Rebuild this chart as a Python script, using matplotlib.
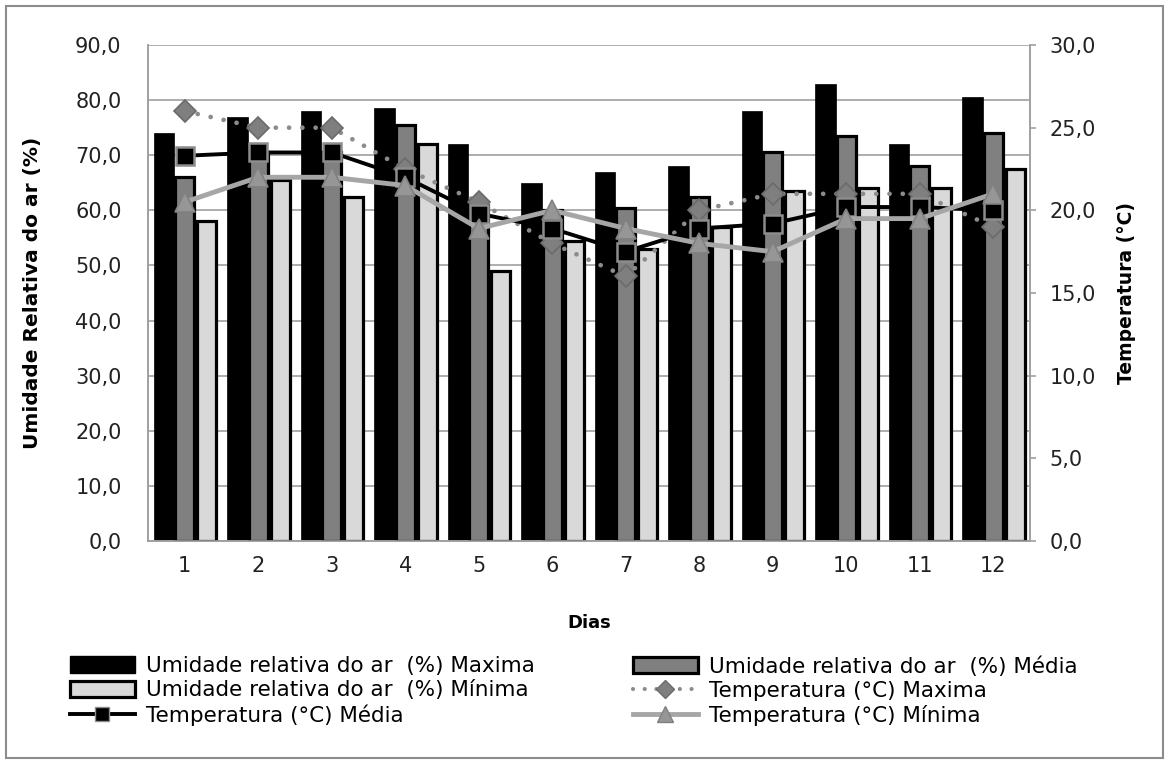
import numpy as np
import matplotlib
matplotlib.use('Agg')
import matplotlib.pyplot as plt
from matplotlib.lines import Line2D
from matplotlib.patches import Patch, Rectangle
from matplotlib.ticker import FuncFormatter, MultipleLocator

plt.rcParams['font.family'] = ['DejaVu Sans']

# dados
dias = [1, 2, 3, 4, 5, 6, 7, 8, 9, 10, 11, 12]
ur_max = [74, 77, 78, 78.5, 72, 65, 67, 68, 78, 83, 72, 80.5]
ur_med = [66, 70.5, 70.5, 75.5, 61, 60, 60.5, 62.5, 70.5, 73.5, 68, 74]
ur_min = [58, 65.5, 62.5, 72, 49, 54.5, 53, 57, 63.5, 64, 64, 67.5]
t_max = [26, 25, 25, 22.5, 20.5, 18, 16, 20, 21, 21, 21, 19]
t_med = [23.3, 23.5, 23.5, 22, 19.8, 18.9, 17.5, 18.9, 19.2, 20.2, 20.2, 20]
t_min = [20.5, 22, 22, 21.5, 18.9, 20, 18.9, 18, 17.5, 19.5, 19.5, 21]

labels = ['Umidade relativa do ar  (%) Maxima',
          'Umidade relativa do ar  (%) Média',
          'Umidade relativa do ar  (%) Mínima',
          'Temperatura (°C) Maxima',
          'Temperatura (°C) Média',
          'Temperatura (°C) Mínima']

fig = plt.figure(figsize=(11.69, 7.63), dpi=100)
fig.patches.append(Rectangle((0.005, 0.007), 0.99, 0.985, transform=fig.transFigure,
                             fill=False, edgecolor='#8c8c8c', linewidth=1.5))
ax1 = fig.add_axes([0.1266, 0.291, 0.7545, 0.65])
ax2 = ax1.twinx()

x = np.arange(len(dias))
w = 0.28
ax1.bar(x - w, ur_max, w, color='black', edgecolor='black', linewidth=0.5, zorder=2)
ax1.bar(x, ur_med, w * 0.92, color='#808080', edgecolor='black', linewidth=2.3, zorder=3)
ax1.bar(x + w + 0.02, ur_min, w * 0.92, color='#d9d9d9', edgecolor='black', linewidth=2.3, zorder=3)

dots = (0, (0.01, 2.8))
ax2.plot(x, t_max, linestyle=dots, color='#8c8c8c', linewidth=3.4,
         dash_capstyle='round', marker='D', markersize=11,
         markerfacecolor='#7f7f7f', markeredgecolor='#6b6b6b', markeredgewidth=1.2)
ax2.plot(x, t_med, color='black', linewidth=2.8, marker='s', markersize=13,
         markerfacecolor='black', markeredgecolor='#8c8c8c', markeredgewidth=1.8)
ax2.plot(x, t_min, color='#a6a6a6', linewidth=3.5, marker='^', markersize=14,
         markerfacecolor='#969696', markeredgecolor='#808080', markeredgewidth=1.2)

fmt = FuncFormatter(lambda v, p: f'{v:.1f}'.replace('.', ','))
ax1.set_ylim(0, 90)
ax1.yaxis.set_major_locator(MultipleLocator(10))
ax1.yaxis.set_major_formatter(fmt)
ax2.set_ylim(0, 30)
ax2.yaxis.set_major_locator(MultipleLocator(5))
ax2.yaxis.set_major_formatter(fmt)
ax1.set_xlim(-0.5, len(dias) - 0.5)
ax1.set_xticks(x)
ax1.set_xticklabels([str(d) for d in dias])

ax1.grid(axis='y', color='#a0a0a0', linewidth=1.2, zorder=0)
ax1.set_axisbelow(True)
for a in (ax1, ax2):
    a.spines['top'].set_visible(False)
    for s in ('left', 'right', 'bottom'):
        a.spines[s].set_color('#a0a0a0')
        a.spines[s].set_linewidth(1.2)
ax1.tick_params(axis='y', length=0, pad=19, labelsize=15, colors='#222222')
ax1.tick_params(axis='x', length=0, pad=11, labelsize=15, colors='#222222')
ax2.tick_params(axis='y', length=4, width=1.2, color='#a0a0a0', pad=10, labelsize=15,
                labelcolor='#222222')

ax1.set_ylabel('Umidade Relativa do ar (%)', fontsize=14.5, fontweight='bold', labelpad=24)
ax2.set_ylabel('Temperatura (°C)', fontsize=13.5, fontweight='bold', labelpad=15)
ax1.set_xlabel('Dias', fontsize=13, fontweight='bold', labelpad=27)

h_ur_max = Patch(facecolor='black', edgecolor='black')
h_ur_med = Patch(facecolor='#808080', edgecolor='black', linewidth=2.3)
h_ur_min = Patch(facecolor='#d9d9d9', edgecolor='black', linewidth=2.3)
h_t_max = Line2D([], [], linestyle=dots, color='#8c8c8c', linewidth=3,
                 dash_capstyle='round', marker='D', markersize=9,
                 markerfacecolor='#7f7f7f', markeredgecolor='#6b6b6b')
h_t_med = Line2D([], [], color='black', linewidth=2.8, marker='s', markersize=10,
                 markerfacecolor='black', markeredgecolor='#8c8c8c')
h_t_min = Line2D([], [], color='#a6a6a6', linewidth=3.5, marker='^', markersize=11,
                 markerfacecolor='#969696', markeredgecolor='#808080')

kw = dict(frameon=False, fontsize=15.5, handlelength=3.0, handleheight=0.8,
          handletextpad=0.55, labelspacing=0.2, borderaxespad=0, borderpad=0)
leg1 = fig.legend([h_ur_max, h_ur_min, h_t_med], [labels[0], labels[2], labels[4]],
                  loc='upper left', **kw)
leg1.set_bbox_to_anchor((70 / 1169, 1 - 656 / 763), transform=fig.transFigure)
leg2 = fig.legend([h_ur_med, h_t_max, h_t_min], [labels[1], labels[3], labels[5]],
                  loc='upper left', **kw)
leg2.set_bbox_to_anchor((633 / 1169, 1 - 656 / 763), transform=fig.transFigure)

fig.savefig('out.png', dpi=100)
